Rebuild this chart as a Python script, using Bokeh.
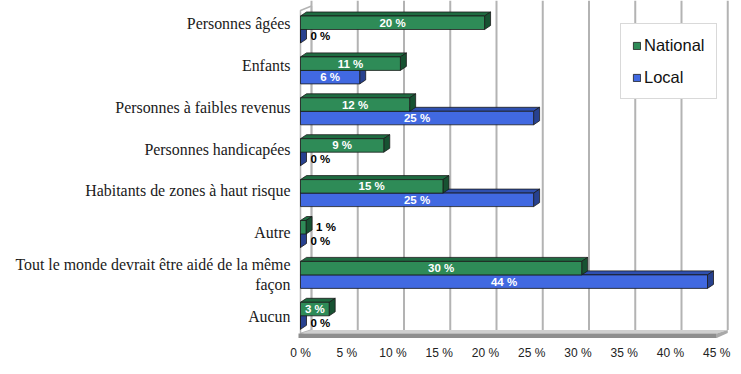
from bokeh.plotting import figure
from bokeh.models import Range1d, FixedTicker, ColumnDataSource, Legend, LegendItem
from bokeh.core.properties import value
from bokeh.embed import file_html
from bokeh.resources import INLINE

# ---------------- data ----------------
categories = [
    "Personnes âgées",
    "Enfants",
    "Personnes à faibles revenus",
    "Personnes handicapées",
    "Habitants de zones à haut risque",
    "Autre",
    "Tout le monde devrait être aidé de la même\nfaçon",
    "Aucun",
]
national = [19.9, 10.8, 11.8, 9.0, 15.4, 0.6, 30.4, 3.1]
local = [0.0, 6.4, 25.2, 0.0, 25.2, 0.0, 44.0, 0.0]
series_names = ["National", "Local"]
x_ticks = [0, 5, 10, 15, 20, 25, 30, 35, 40, 45]

# ---------------- style / geometry ----------------
GREEN, GREEN_TOP, GREEN_SIDE = "#2e8b57", "#1f6b41", "#175232"
BLUE, BLUE_TOP, BLUE_SIDE = "#4169e1", "#2f50b0", "#27418f"
EDGE = "#1a1a1a"
WALL = "#b3b3b3"

PX_X = 9.25    # pixels per percent
PX_Y = 41.86   # pixels per category-label step
LABEL0_PX = 23 # pixel row of the first category label


def hx(px):
    return px / PX_X


def hy(px):
    return px / PX_Y


def py(px):
    return (px - LABEL0_PX) / PX_Y


BAR_STEP = hy(40.9)    # bars are spaced slightly tighter than labels (perspective)
SHIFT = hy(6)          # first bar divider sits 6px below the first label
BH = hy(13.5)          # bar thickness
DX, DY = hx(6), hy(4)  # bar extrusion
WX = hx(11)            # wall depth

Y_TOP, Y_BOT = py(0), py(339)
FLOOR_FRONT_BOT = py(337.5)
FLOOR_FRONT_TOP = py(333)
FLOOR_BACK = py(329.5)

p = figure(
    frame_width=433, frame_height=339,
    min_border_left=297, min_border_right=8, min_border_top=0, min_border_bottom=30,
    x_range=Range1d(-hx(3), -hx(3) + 433 / PX_X), y_range=Range1d(Y_BOT, Y_TOP),
    output_backend="svg", toolbar_location=None,
)
p.grid.visible = False
p.outline_line_color = None
p.background_fill_color = "white"
p.border_fill_color = "white"

# left wall
p.patch([0, WX, WX, 0], [py(10), py(5.5), FLOOR_BACK, FLOOR_FRONT_TOP],
        fill_color="white", line_color=WALL, line_width=1.5)
# back wall grid lines
p.segment(x0=[t + WX for t in x_ticks], x1=[t + WX for t in x_ticks],
          y0=[Y_TOP] * len(x_ticks), y1=[FLOOR_BACK] * len(x_ticks),
          line_color=WALL, line_width=2)
# floor
xmax = x_ticks[-1]
p.patch([0, xmax, xmax + WX, WX], [FLOOR_FRONT_TOP, FLOOR_FRONT_TOP, FLOOR_BACK, FLOOR_BACK],
        fill_color="#cfcfcf", line_color=None)
p.patch([-hx(2), xmax, xmax, -hx(2)], [FLOOR_FRONT_TOP, FLOOR_FRONT_TOP, FLOOR_FRONT_BOT, FLOOR_FRONT_BOT],
        fill_color="#8e8e8e", line_color=None)
p.patch([xmax, xmax + WX, xmax + WX, xmax], [FLOOR_FRONT_TOP, FLOOR_BACK, FLOOR_BACK + hy(3), FLOOR_FRONT_BOT],
        fill_color="#a9a9a9", line_color=None)


def draw_series(vals, above, front, top, side):
    ytop, ybot = [], []
    for i, v in enumerate(vals):
        d = i * BAR_STEP + SHIFT
        if above:
            ytop.append(d - BH); ybot.append(d)
        else:
            ytop.append(d); ybot.append(d + BH)
    top_xs = [[0, v, v + DX, DX] for v in vals]
    top_ys = [[t, t, t - DY, t - DY] for t in ytop]
    side_xs = [[v, v, v + DX, v + DX] for v in vals]
    side_ys = [[t, b, b - DY, t - DY] for t, b in zip(ytop, ybot)]
    p.patches(top_xs, top_ys, fill_color=top, line_color=EDGE, line_width=0.8)
    p.patches(side_xs, side_ys, fill_color=side, line_color=EDGE, line_width=0.8)
    r = p.quad(left=[0] * len(vals), right=vals, top=ytop, bottom=ybot,
               fill_color=front, line_color=EDGE, line_width=0.8)
    return r, ytop, ybot


r_loc, lt, lb = draw_series(local, False, BLUE, BLUE_TOP, BLUE_SIDE)
r_nat, nt, nb = draw_series(national, True, GREEN, GREEN_TOP, GREEN_SIDE)

# value labels
ins = dict(x=[], y=[], text=[])
out = dict(x=[], y=[], text=[])
for vals, yt, yb in ((national, nt, nb), (local, lt, lb)):
    for v, t, b in zip(vals, yt, yb):
        lab = f"{v:.0f} %"
        if v >= 2:
            ins["x"].append(v / 2); ins["y"].append((t + b) / 2); ins["text"].append(lab)
        else:
            out["x"].append(v + DX + hx(4)); out["y"].append((t + b) / 2); out["text"].append(lab)

p.text(x="x", y="y", text="text", source=ColumnDataSource(ins),
       text_font=value("Liberation Sans"), text_font_style="bold", text_font_size="11.5px",
       text_color="white", text_align="center", text_baseline="middle")
p.text(x="x", y="y", text="text", source=ColumnDataSource(out),
       text_font=value("Liberation Sans"), text_font_style="bold", text_font_size="11.5px",
       text_color="black", text_align="left", text_baseline="middle")

# axes
p.yaxis.ticker = FixedTicker(ticks=list(range(len(categories))))
p.yaxis.major_label_overrides = {i: c for i, c in enumerate(categories)}
p.yaxis.major_label_text_font = "Liberation Serif"
p.yaxis.major_label_text_font_size = "15.9px"
p.yaxis.major_label_text_color = "#1a1a1a"
p.yaxis.major_label_standoff = 7
p.yaxis.major_tick_out = 0
p.yaxis.major_tick_in = 0
p.yaxis.minor_tick_out = 0
p.yaxis.minor_tick_in = 0
p.yaxis.axis_line_color = None

p.xaxis.ticker = FixedTicker(ticks=x_ticks)
p.xaxis.major_label_overrides = {t: f"{t} %" for t in x_ticks}
p.xaxis.major_label_text_font = "Liberation Sans"
p.xaxis.major_label_text_font_size = "12px"
p.xaxis.major_label_text_color = "#222222"
p.xaxis.major_label_standoff = 6
p.xaxis.major_tick_out = 0
p.xaxis.major_tick_in = 0
p.xaxis.minor_tick_out = 0
p.xaxis.minor_tick_in = 0
p.xaxis.axis_line_color = None

legend = Legend(
    items=[LegendItem(label=series_names[0], renderers=[r_nat]),
           LegendItem(label=series_names[1], renderers=[r_loc])],
    location=(323, 240),
    glyph_width=9, glyph_height=9, label_height=20, label_standoff=3,
    spacing=12, padding=11, margin=0,
    label_text_font="Liberation Sans", label_text_font_size="16.5px", label_text_color="#111111",
    border_line_color=WALL, border_line_width=1.2, background_fill_color="white",
    background_fill_alpha=1.0,
)
p.add_layout(legend)

open("out.html", "w").write(file_html(p, INLINE))
